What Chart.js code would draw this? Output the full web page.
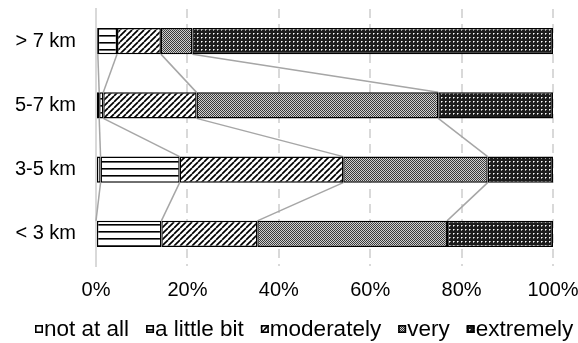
<!DOCTYPE html>
<html>
<head>
<meta charset="utf-8">
<script src="https://cdn.jsdelivr.net/npm/chart.js@4/dist/chart.umd.min.js"></script>
<style>
  html, body { margin: 0; padding: 0; background: #fff; }
  #wrap { width: 578px; height: 343px; }
</style>
</head>
<body>
<div id="wrap"><canvas id="c"></canvas></div>
<script>
// Distance groups, top to bottom
const categories = ['> 7 km', '5-7 km', '3-5 km', '< 3 km'];
const seriesNames = ['not at all', 'a little bit', 'moderately', 'very', 'extremely'];

// Share of answers per group (%)
const notAtAll   = [0.4, 0.7, 1.0, 0.0];
const aLittleBit = [4.2, 0.9, 17.3, 14.3];
const moderately = [9.6, 20.4, 35.8, 21.0];
const very       = [6.9, 52.9, 31.6, 41.5];
const extremely  = [78.9, 25.1, 14.3, 23.2];

const xTickValues = [0, 20, 40, 60, 80, 100];

const FONT = '"Liberation Sans", Arial, sans-serif';

// Small repeating fills, one per answer level
function makePattern(w, h, paint) {
  const c = document.createElement('canvas');
  c.width = w; c.height = h;
  const g = c.getContext('2d');
  paint(g, w, h);
  return g.createPattern(c, 'repeat');
}

const fillNotAtAll = '#ffffff';

const fillLittle = makePattern(4, 7, (g, w, h) => {
  g.fillStyle = '#fff'; g.fillRect(0, 0, w, h);
  g.fillStyle = '#000'; g.fillRect(0, 0, w, 1);
  g.fillStyle = '#666'; g.fillRect(0, 1, w, 1);
});

const fillModerate = makePattern(6, 6, (g, w, h) => {
  g.fillStyle = '#fff'; g.fillRect(0, 0, w, h);
  g.strokeStyle = '#000'; g.lineWidth = 1.7;
  for (let k = -6; k <= 6; k += 6) {
    g.beginPath(); g.moveTo(k, h); g.lineTo(k + w, 0); g.stroke();
  }
});

const fillVery = makePattern(2, 2, (g) => {
  g.fillStyle = '#d0d0d0'; g.fillRect(0, 0, 2, 2);
  g.fillStyle = '#3a3a3a'; g.fillRect(0, 0, 1, 1); g.fillRect(1, 1, 1, 1);
});

const fillExtreme = makePattern(4, 4, (g) => {
  g.fillStyle = '#1c1c1c'; g.fillRect(0, 0, 4, 4);
  g.fillStyle = '#ffffff'; g.fillRect(1, 1, 1, 1);
  g.fillStyle = '#9a9a9a'; g.fillRect(2, 1, 1, 1); g.fillRect(1, 2, 1, 1);
});

const seriesValues = [notAtAll, aLittleBit, moderately, very, extremely];
const seriesFills = [fillNotAtAll, fillLittle, fillModerate, fillVery, fillExtreme];

// Grey connectors between the ends of matching segments of neighbouring bars
const seriesLines = {
  id: 'seriesLines',
  beforeDatasetsDraw(chart) {
    const ctx = chart.ctx;
    const n = chart.data.datasets.length;
    ctx.save();
    ctx.strokeStyle = '#a6a6a6';
    ctx.lineWidth = 1.5;
    for (let s = 0; s < n - 1; s++) {
      const meta = chart.getDatasetMeta(s);
      for (let i = 0; i < meta.data.length - 1; i++) {
        const a = meta.data[i].getProps(['x', 'y', 'height'], true);
        const b = meta.data[i + 1].getProps(['x', 'y', 'height'], true);
        ctx.beginPath();
        ctx.moveTo(a.x, a.y + a.height / 2);
        ctx.lineTo(b.x, b.y - b.height / 2);
        ctx.stroke();
      }
    }
    ctx.restore();
  }
};

// Legend row with small patterned swatches
const patternLegend = {
  id: 'patternLegend',
  afterDraw(chart) {
    const ctx = chart.ctx;
    ctx.save();
    ctx.font = '22.5px ' + FONT;
    ctx.textBaseline = 'middle';
    ctx.textAlign = 'left';
    const y = 330;
    const box = 8;
    let x = 35;
    chart.data.datasets.forEach((ds) => {
      ctx.fillStyle = ds.backgroundColor;
      ctx.fillRect(x, y - box / 2 - 1, box, box);
      ctx.strokeStyle = '#000';
      ctx.lineWidth = 1.6;
      ctx.strokeRect(x + 0.8, y - box / 2 - 1 + 0.8, box - 1.6, box - 1.6);
      ctx.fillStyle = '#000';
      const tx = x + box + 1;
      ctx.fillText(ds.label, tx, y);
      x = tx + ctx.measureText(ds.label).width + 17;
    });
    ctx.restore();
  }
};

new Chart(document.getElementById('c'), {
  type: 'bar',
  data: {
    labels: categories,
    datasets: seriesNames.map((name, k) => ({
      label: name,
      data: seriesValues[k],
      backgroundColor: seriesFills[k],
      borderColor: '#000',
      borderWidth: 1.4,
      borderSkipped: false,
      barPercentage: 0.405,
      categoryPercentage: 1
    }))
  },
  options: {
    indexAxis: 'y',
    responsive: true,
    maintainAspectRatio: false,
    animation: false,
    layout: { padding: { top: 9, right: 25, bottom: 43, left: 0 } },
    plugins: {
      legend: { display: false },
      tooltip: { enabled: false }
    },
    scales: {
      x: {
        stacked: true,
        min: 0,
        max: 100,
        afterBuildTicks(scale) { scale.ticks = xTickValues.map(v => ({ value: v })); },
        afterFit(scale) {
          scale.height = 34;
          scale.paddingLeft = 0;
          scale.paddingRight = 0;
        },
        ticks: {
          padding: 12,
          color: '#000',
          font: { family: FONT, size: 20 },
          callback: (v) => v + '%'
        },
        grid: { color: '#d9d9d9', lineWidth: 2, drawTicks: false },
        border: { display: false, dash: [9, 6] }
      },
      y: {
        stacked: true,
        afterFit(scale) {
          scale.width = 96;
          scale.paddingTop = 0;
          scale.paddingBottom = 0;
        },
        ticks: {
          padding: 20,
          color: '#000',
          font: { family: FONT, size: 20 }
        },
        grid: { display: false, drawTicks: false },
        border: { display: true, color: '#d9d9d9', width: 2 }
      }
    }
  },
  plugins: [seriesLines, patternLegend]
});
</script>
</body>
</html>
